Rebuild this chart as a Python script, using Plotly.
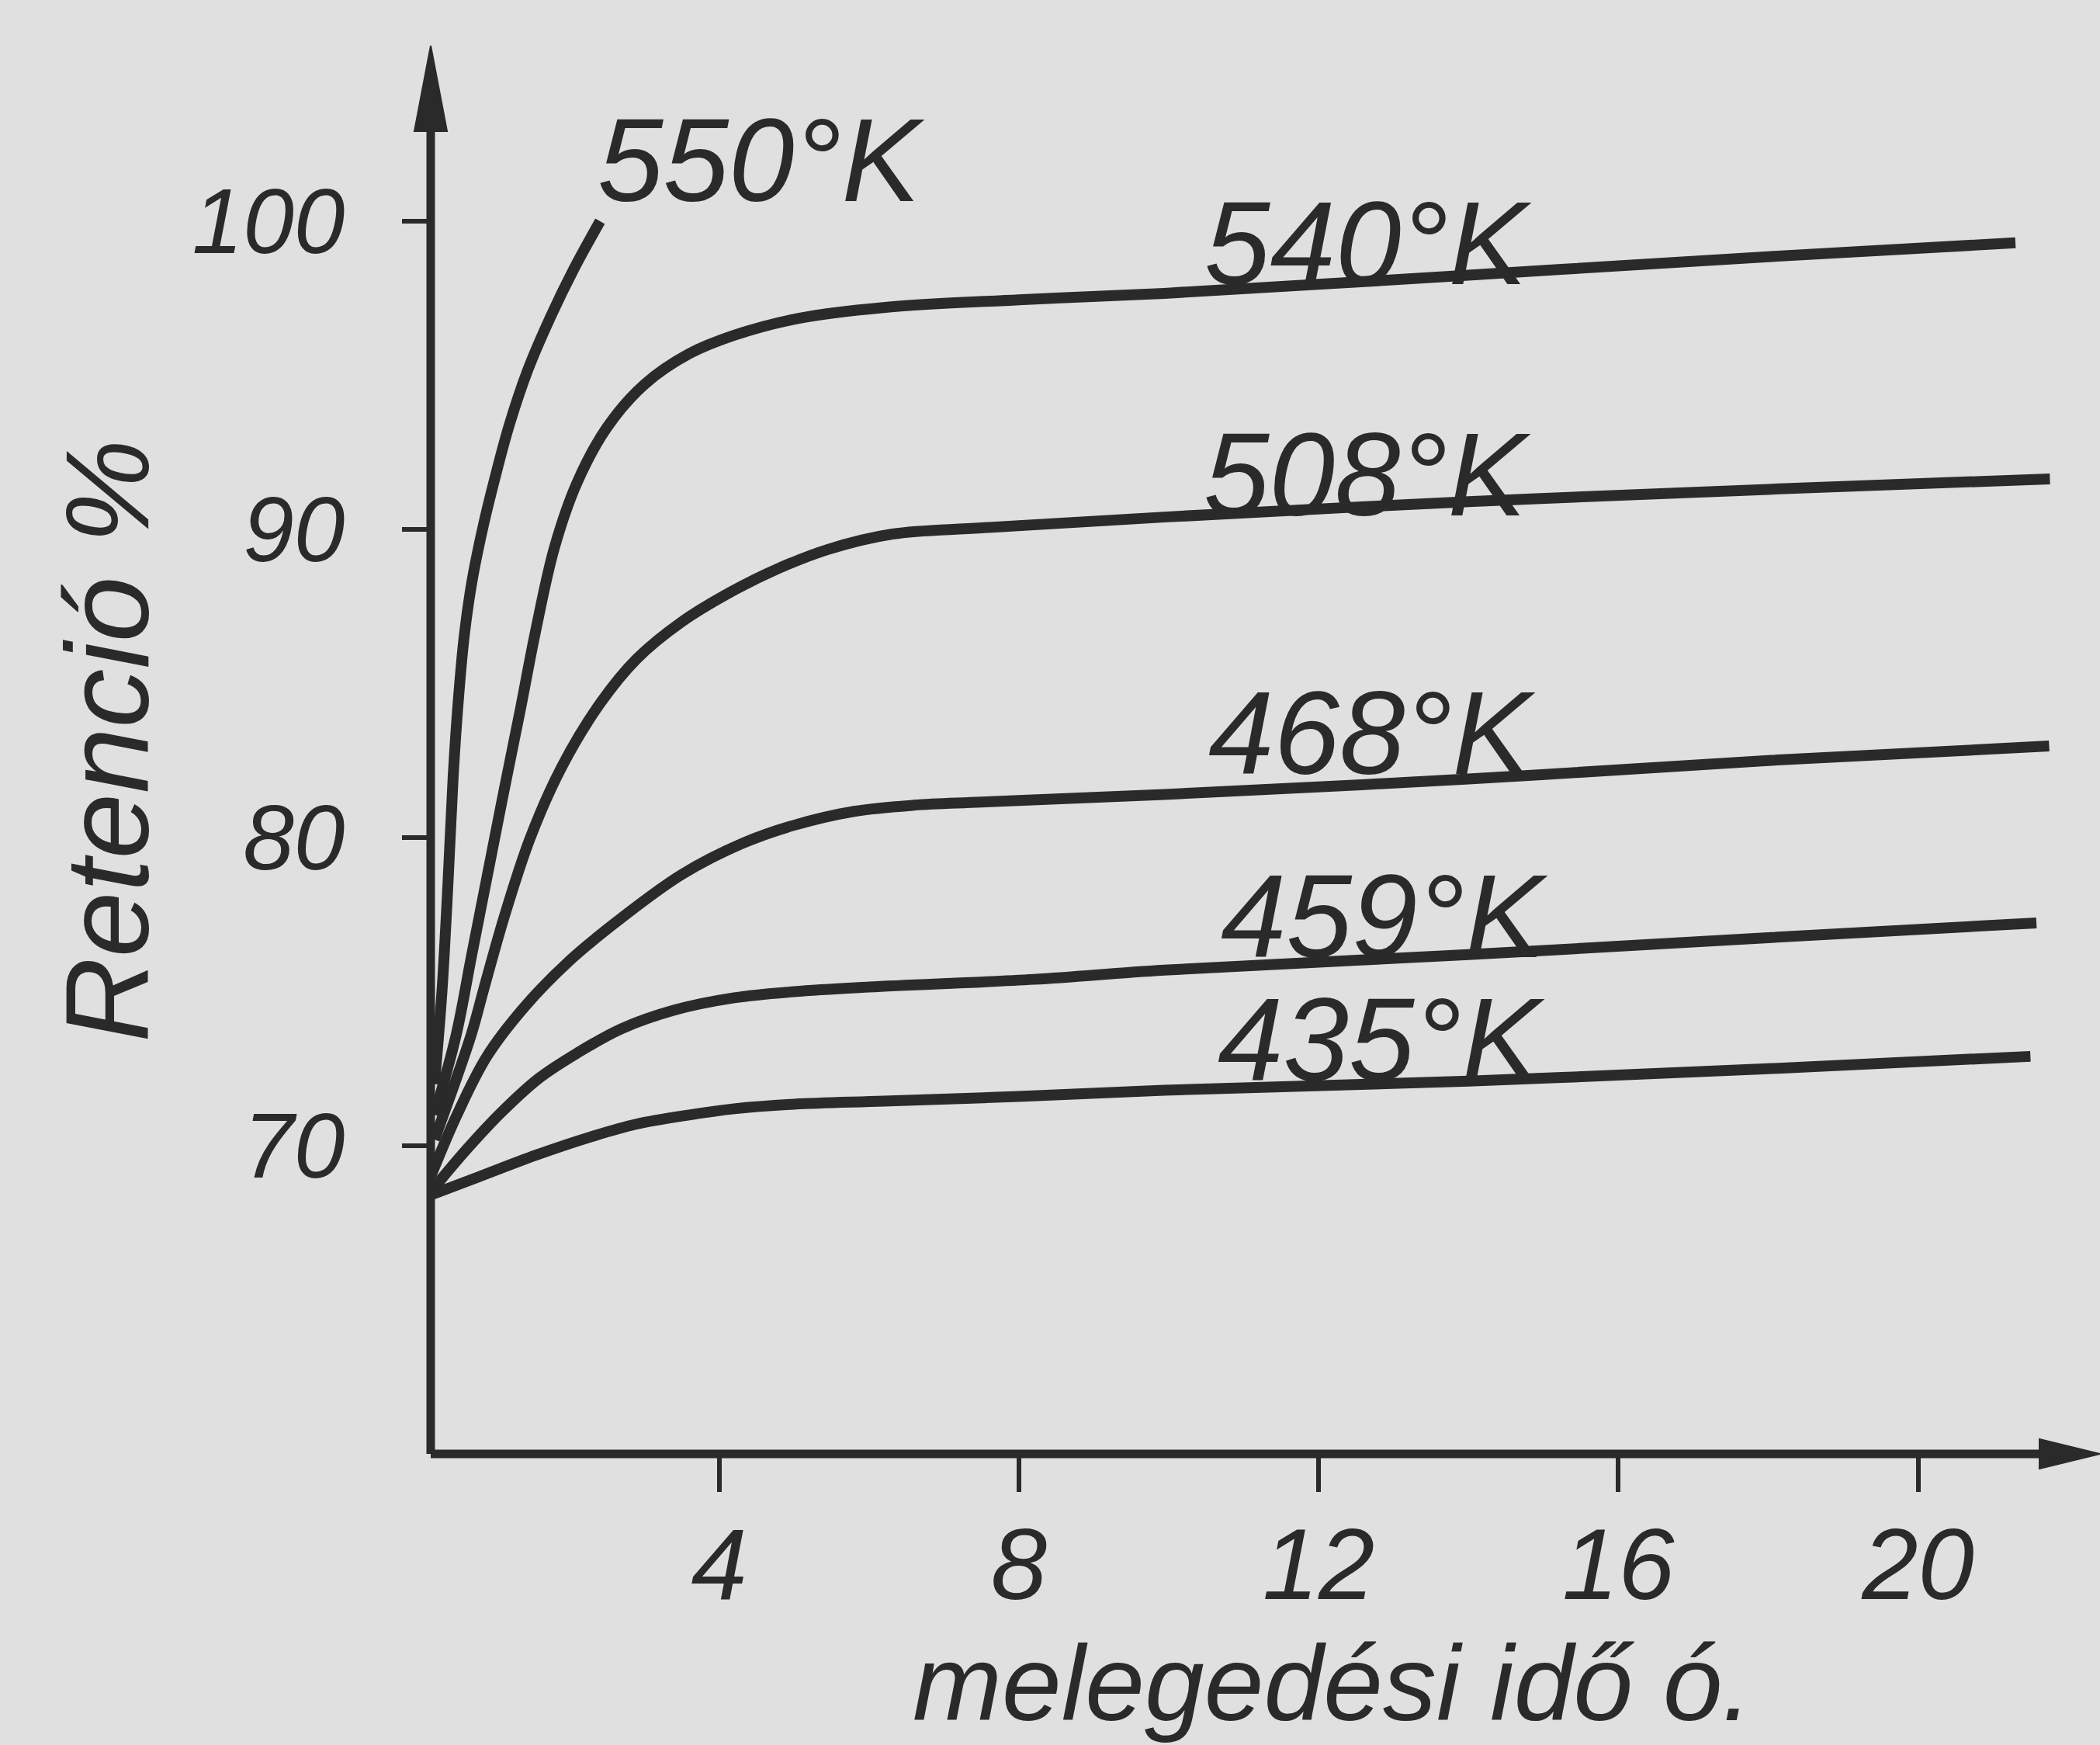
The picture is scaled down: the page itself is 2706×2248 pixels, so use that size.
import plotly.graph_objects as go

# ---------------- data ----------------
time_550 = [0.20, 0.30, 0.38, 0.45, 0.52, 0.60, 0.70, 0.85, 1.00, 1.20, 1.45, 1.75, 2.05, 2.41]
ret_550 = [72.0, 75.0, 78.5, 82.0, 84.5, 86.6, 88.3, 90.1, 91.6, 93.4, 95.2, 96.9, 98.4, 100.0]

time_540 = [0.20, 0.49, 0.69, 0.90, 1.11, 1.35, 1.55, 1.80, 2.10, 2.50, 3.00, 3.60, 4.20, 5.06, 6.19, 8.0, 9.94, 14.0, 18.0, 21.3]
ret_540 = [71.0, 73.6, 76.1, 78.7, 81.3, 84.2, 86.7, 89.4, 91.5, 93.3, 94.7, 95.7, 96.3, 96.85, 97.2, 97.45, 97.66, 98.25, 98.85, 99.3]

time_508 = [0.20, 0.69, 0.86, 1.14, 1.48, 1.90, 2.41, 2.90, 3.50, 4.14, 4.76, 5.45, 6.31, 7.5, 9.94, 14.0, 18.0, 21.76]
ret_508 = [70.2, 73.6, 75.1, 77.5, 80.0, 82.3, 84.35, 85.8, 87.0, 87.95, 88.7, 89.35, 89.85, 90.05, 90.4, 90.9, 91.3, 91.64]

time_468 = [0.15, 0.50, 0.90, 1.40, 2.00, 2.70, 3.50, 4.30, 5.00, 5.80, 6.60, 7.5, 9.94, 14.0, 18.0, 21.75]
ret_468 = [69.0, 71.0, 72.9, 74.5, 76.0, 77.4, 78.8, 79.8, 80.4, 80.85, 81.05, 81.15, 81.4, 81.9, 82.5, 82.97]

time_459 = [0.15, 0.60, 1.10, 1.60, 2.10, 2.70, 3.40, 4.20, 5.00, 6.00, 8.2, 9.94, 14.0, 18.0, 21.58]
ret_459 = [68.5, 69.8, 71.1, 72.2, 73.0, 73.8, 74.4, 74.8, 75.0, 75.15, 75.4, 75.7, 76.2, 76.75, 77.23]

time_435 = [0.15, 0.80, 1.56, 2.30, 2.89, 3.60, 4.20, 5.0, 6.2, 8.0, 9.94, 14.0, 18.0, 21.5]
ret_435 = [68.4, 69.0, 69.7, 70.3, 70.7, 71.0, 71.2, 71.35, 71.45, 71.6, 71.8, 72.1, 72.5, 72.9]

curve_labels = ["550°K", "540°K", "508°K", "468°K", "459°K", "435°K"]

x_ticks = [4, 8, 12, 16, 20]
x_tick_text = ["4", "8", "12", "16", "20"]
y_ticks = [70, 80, 90, 100]
y_tick_text = ["70", "80", "90", "100"]

x_title = "melegedési idő ó."
y_title = "Retenció %"

# ---------------- styling / layout ----------------
W_FIG, H_FIG = 2706, 2248
L, R, T, B = 555, 0, 59, 375
PX_X = 96.55      # pixels per hour
PX_Y = 39.7       # pixels per percent
X0 = 0.15
Y0 = 60.0
plot_w = W_FIG - L - R
plot_h = H_FIG - T - B
X1 = X0 + plot_w / PX_X
Y1 = Y0 + plot_h / PX_Y

INK = "#2a2a2a"
BG = "#e0e0e0"
FONT = "Liberation Sans, Arial, sans-serif"

series = [
    (time_550, ret_550),
    (time_540, ret_540),
    (time_508, ret_508),
    (time_468, ret_468),
    (time_459, ret_459),
    (time_435, ret_435),
]

# label anchor positions (data units)
label_pos = [(4.56, 102.0), (12.66, 99.3), (12.65, 91.8), (12.71, 83.4), (12.87, 77.45), (12.83, 73.45)]

fig = go.Figure()
for (xs, ys), name in zip(series, curve_labels):
    fig.add_trace(go.Scatter(
        x=xs, y=ys, mode="lines", name=name, showlegend=False, hoverinfo="skip",
        line=dict(color=INK, width=14, shape="spline", smoothing=1.0),
    ))

annotations = []
for name, (lx, ly) in zip(curve_labels, label_pos):
    annotations.append(dict(
        x=lx, y=ly, xref="x", yref="y", text=name, showarrow=False,
        xanchor="center", yanchor="middle",
        font=dict(family=FONT, size=152, color=INK, style="italic"),
    ))

# axis titles in paper coordinates (converted from pixel centres)
annotations.append(dict(
    x=(1717 - L) / plot_w, y=(H_FIG - B - 2168) / plot_h, xref="paper", yref="paper",
    text=x_title, showarrow=False, xanchor="center", yanchor="middle",
    font=dict(family=FONT, size=138, color=INK, style="italic"),
))
annotations.append(dict(
    x=(138 - L) / plot_w, y=(H_FIG - B - 955) / plot_h, xref="paper", yref="paper",
    text=y_title, showarrow=False, textangle=-90, xanchor="center", yanchor="middle",
    font=dict(family=FONT, size=152, color=INK, style="italic"),
))

# axis lines with arrowheads (paper coordinates)
ax_w = 11
y_head_len = 110 / plot_h
y_head_half = 21 / plot_w
x_head_len = 78 / plot_w
x_head_half = 19 / plot_h

shapes = [
    dict(type="line", xref="paper", yref="paper", x0=0, x1=0, y0=0, y1=1 - y_head_len / 2,
         line=dict(color=INK, width=ax_w)),
    dict(type="line", xref="paper", yref="paper", x0=0, x1=1 - x_head_len / 2, y0=0, y1=0,
         line=dict(color=INK, width=ax_w)),
    dict(type="path", xref="paper", yref="paper",
         path=f"M {-y_head_half} {1 - y_head_len} L 0 1 L {y_head_half} {1 - y_head_len} Z",
         fillcolor=INK, line=dict(color=INK, width=2)),
    dict(type="path", xref="paper", yref="paper",
         path=f"M {1 - x_head_len} {x_head_half} L 1 0 L {1 - x_head_len} {-x_head_half} Z",
         fillcolor=INK, line=dict(color=INK, width=2)),
]

fig.update_layout(
    width=W_FIG, height=H_FIG,
    margin=dict(l=L, r=R, t=T, b=B, pad=0),
    paper_bgcolor=BG, plot_bgcolor=BG,
    annotations=annotations, shapes=shapes,
    showlegend=False,
)
fig.update_xaxes(
    range=[X0, X1], showgrid=False, zeroline=False, showline=False,
    tickmode="array", tickvals=x_ticks, ticktext=x_tick_text,
    ticks="outside", ticklen=48, tickwidth=6, tickcolor=INK,
    ticklabelstandoff=-18,
    tickfont=dict(family=FONT, size=130, color=INK, style="italic"),
)
fig.update_yaxes(
    range=[Y0, Y1], showgrid=False, zeroline=False, showline=False,
    tickmode="array", tickvals=y_ticks, ticktext=y_tick_text,
    ticks="outside", ticklen=36, tickwidth=6, tickcolor=INK,
    ticklabelstandoff=50,
    tickfont=dict(family=FONT, size=118, color=INK, style="italic"),
)

fig.write_html("out.html")
